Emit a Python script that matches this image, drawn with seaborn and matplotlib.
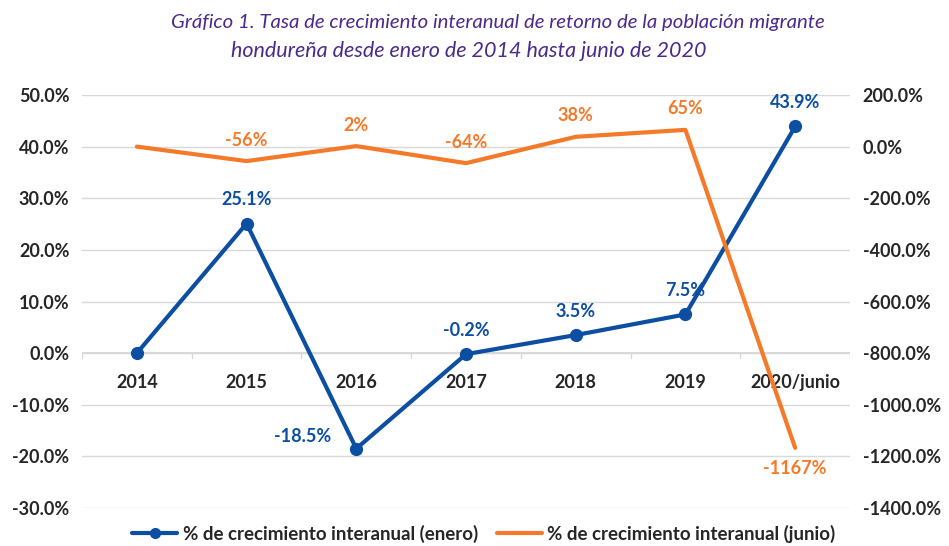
import matplotlib
matplotlib.use("Agg")
import matplotlib.pyplot as plt
import seaborn as sns
import pandas as pd
from matplotlib.ticker import FuncFormatter, MultipleLocator

# Data
years = ['2014', '2015', '2016', '2017', '2018', '2019', '2020/junio']
enero = [0.0, 25.1, -18.5, -0.2, 3.5, 7.5, 43.9]
junio = [0.0, -56, 2, -64, 38, 65, -1167]
enero_labels = ['', '25.1%', '-18.5%', '-0.2%', '3.5%', '7.5%', '43.9%']
junio_labels = ['', '-56%', '2%', '-64%', '38%', '65%', '-1167%']

df = pd.DataFrame({'year': years, 'enero': enero, 'junio': junio})
df['x'] = range(len(years))

sns.set_theme(style="white")
plt.rcParams['font.family'] = ['Lato', 'DejaVu Sans']

color_blue = '#0B4EA2'
color_orange = '#F47A2A'
text_dark = '#262626'
grid_color = '#D9D9D9'
fs = 13

fig = plt.figure(figsize=(9.49, 5.46), dpi=100)
ax1 = fig.add_axes([0.0864, 0.0696, 0.8093, 0.7564])
ax2 = ax1.twinx()

# Left axis: enero series
sns.lineplot(data=df, x='x', y='enero', ax=ax1, color=color_blue, linewidth=3,
             marker='o', markersize=9.5, markeredgewidth=0, legend=False, zorder=4)
# Right axis: junio series
sns.lineplot(data=df, x='x', y='junio', ax=ax2, color=color_orange, linewidth=3,
             legend=False, zorder=3)

ax1.set_xlim(-0.5, len(years) - 0.5)
ax1.set_ylim(-30, 50)
ax2.set_ylim(-1400, 200)

ax1.yaxis.set_major_locator(MultipleLocator(10))
ax2.yaxis.set_major_locator(MultipleLocator(200))
ax1.yaxis.set_major_formatter(FuncFormatter(lambda v, p: f"{v:.1f}%"))
ax2.yaxis.set_major_formatter(FuncFormatter(lambda v, p: f"{v:.1f}%"))

ax1.grid(axis='y', color=grid_color, linewidth=1)
ax1.set_axisbelow(True)
ax1.set_xticks([])
ax1.set_xlabel('')
ax1.set_ylabel('')
ax2.set_ylabel('')
ax2.grid(False)

for ax in (ax1, ax2):
    for s in ax.spines.values():
        s.set_visible(False)
    ax.tick_params(axis='y', length=0, labelsize=fs, labelcolor=text_dark, pad=9)
    for lbl in ax.get_yticklabels():
        lbl.set_fontweight('bold')

# Category axis drawn at zero on the left scale
ax1.axhline(0, color=grid_color, linewidth=1.5, zorder=1)
for i in range(len(years) + 1):
    ax1.plot([i - 0.5, i - 0.5], [0, -1.0], color=grid_color, linewidth=1, zorder=1)
for i, yr in enumerate(years):
    ax1.text(i, -5.6, yr, ha='center', va='center', fontsize=fs,
             fontweight='bold', color=text_dark)

# Data labels: enero
for i, (v, lab) in enumerate(zip(enero, enero_labels)):
    if not lab:
        continue
    if lab == '-18.5%':
        ax1.annotate(lab, (i, v), xytext=(-18, 9), textcoords='offset points',
                     ha='right', va='center', fontsize=fs, fontweight='bold', color=color_blue)
    else:
        ax1.annotate(lab, (i, v), xytext=(0, 11), textcoords='offset points',
                     ha='center', va='bottom', fontsize=fs, fontweight='bold', color=color_blue)

# Data labels: junio
for i, (v, lab) in enumerate(zip(junio, junio_labels)):
    if not lab:
        continue
    off = (0, -9) if v < -500 else (0, 9)
    ax2.annotate(lab, (i, v), xytext=off, textcoords='offset points',
                 ha='center', va='top' if v < -500 else 'bottom',
                 fontsize=fs, fontweight='bold', color=color_orange)

# Legend
h1 = plt.Line2D([], [], color=color_blue, linewidth=3, marker='o', markersize=7)
h2 = plt.Line2D([], [], color=color_orange, linewidth=3)
fig.legend([h1, h2], ['% de crecimiento interanual (enero)', '% de crecimiento interanual (junio)'],
           loc='center', bbox_to_anchor=(0.51, 0.022), ncol=2, frameon=False,
           prop={'weight': 'bold', 'size': 13.5}, handlelength=2.4, columnspacing=1.0,
           handletextpad=0.3, labelcolor=text_dark)

# Title (two centred lines, as in the reference)
title_kw = dict(ha='center', va='center', style='italic', color='#4B2A8C')
fig.text(0.525, 0.958, 'Gráfico 1. Tasa de crecimiento interanual de retorno de la población migrante',
         fontsize=14.7, **title_kw)
fig.text(0.494, 0.907, 'hondureña desde enero de 2014 hasta junio de 2020',
         fontsize=15.5, **title_kw)

fig.savefig('out.png', dpi=100)
